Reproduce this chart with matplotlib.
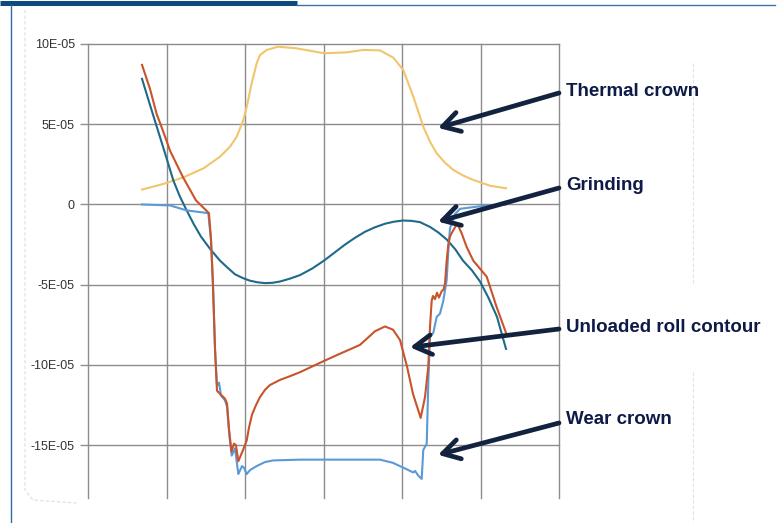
import matplotlib
matplotlib.use("Agg")
import matplotlib.pyplot as plt
from matplotlib.lines import Line2D

# ---------------- data (x in grid units, y in units of 1e-5) ----------------
thermal_x = [0.688, 0.960, 1.215, 1.475, 1.682, 1.809, 1.894, 1.979, 2.022, 2.085, 2.149,
             2.191, 2.276, 2.420, 2.658, 3.010, 3.296, 3.507, 3.720, 3.889, 4.016, 4.080,
             4.144, 4.208, 4.271, 4.357, 4.442, 4.548, 4.654, 4.781, 4.908, 5.121, 5.325]
thermal_y = [0.93, 1.28, 1.69, 2.26, 2.98, 3.60, 4.22, 5.26, 6.09, 7.55, 8.80,
             9.31, 9.63, 9.83, 9.73, 9.42, 9.48, 9.63, 9.60, 9.15, 8.38, 7.55,
             6.72, 5.78, 4.85, 3.91, 3.19, 2.60, 2.15, 1.80, 1.53, 1.17, 1.01]

grinding_x = [0.688, 0.790, 0.866, 0.930, 1.006, 1.087, 1.170, 1.257, 1.350, 1.439, 1.560,
              1.682, 1.780, 1.873, 1.970, 2.064, 2.160, 2.255, 2.350, 2.446, 2.573, 2.701,
              2.860, 3.006, 3.140, 3.274, 3.400, 3.529, 3.656, 3.783, 3.900, 4.013, 4.120,
              4.229, 4.357, 4.465, 4.573, 4.680, 4.777, 4.890, 4.994, 5.100, 5.210, 5.325]
grinding_y = [7.83, 6.2, 5.0, 4.0, 2.8, 1.5, 0.5, -0.37, -1.25, -2.0, -2.8,
              -3.5, -3.95, -4.35, -4.58, -4.75, -4.85, -4.9, -4.88, -4.8, -4.62, -4.4,
              -3.98, -3.5, -3.0, -2.5, -2.08, -1.7, -1.42, -1.2, -1.07, -1.0, -1.02,
              -1.1, -1.4, -1.75, -2.2, -2.8, -3.5, -4.1, -4.8, -5.8, -7.0, -9.0]

unloaded_x = [0.688, 0.790, 0.875, 0.924, 1.006, 1.045, 1.210, 1.376, 1.541, 1.567, 1.592,
              1.618, 1.643, 1.682, 1.745, 1.771, 1.796, 1.828, 1.860, 1.885, 1.915, 1.975,
              2.022, 2.051, 2.089, 2.140, 2.191, 2.255, 2.318, 2.446, 2.573, 2.701, 3.006,
              3.210, 3.465, 3.656, 3.783, 3.885, 3.975, 4.064, 4.140, 4.238, 4.293, 4.335,
              4.357, 4.378, 4.395, 4.420, 4.446, 4.471, 4.506, 4.529, 4.548, 4.569, 4.590,
              4.611, 4.653, 4.704, 4.760, 4.824, 4.908, 5.079, 5.206, 5.325]
unloaded_y = [8.7, 7.2, 5.63, 5.0, 3.9, 3.35, 1.7, 0.25, -0.54, -2.2, -5.0,
              -9.0, -11.6, -11.8, -12.1, -12.4, -14.0, -15.4, -14.9, -15.0, -16.0, -15.3,
              -14.7, -13.9, -13.1, -12.5, -12.0, -11.55, -11.25, -10.93, -10.7, -10.45, -9.75,
              -9.3, -8.75, -7.9, -7.6, -7.8, -8.45, -10.1, -11.8, -13.3, -12.0, -10.1,
              -7.6, -6.0, -5.7, -5.9, -5.5, -5.8, -5.4, -5.3, -4.9, -3.5, -2.5,
              -2.0, -1.6, -1.2, -1.8, -2.65, -3.5, -4.5, -6.4, -8.0]

wear_x = [0.688, 1.045, 1.257, 1.532, 1.567, 1.592, 1.618, 1.643, 1.669, 1.694, 1.745,
          1.771, 1.803, 1.831, 1.873, 1.915, 1.962, 1.987, 2.022, 2.064, 2.149, 2.255,
          2.357, 2.701, 3.210, 3.720, 3.885, 4.060, 4.144, 4.166, 4.208, 4.251, 4.271,
          4.315, 4.335, 4.357, 4.399, 4.442, 4.484, 4.526, 4.569, 4.590, 4.611, 4.675,
          4.739, 5.079, 5.325]
wear_y = [0.0, -0.06, -0.37, -0.54, -2.2, -5.0, -9.0, -11.3, -11.1, -11.9, -12.2,
          -12.6, -14.5, -15.65, -15.2, -16.8, -16.3, -16.4, -16.8, -16.55, -16.3, -16.05,
          -15.95, -15.9, -15.9, -15.9, -16.1, -16.5, -16.7, -16.6, -16.9, -17.1, -15.3,
          -14.9, -11.1, -8.2, -8.0, -7.0, -6.8, -6.0, -4.7, -2.9, -1.5, -0.6,
          -0.27, -0.06, 0.0]

ytick_vals = [10, 5, 0, -5, -10, -15]
ytick_labels = ["10E-05", "5E-05", "0", "-5E-05", "-10E-05", "-15E-05"]
xgrid_vals = [0, 1, 2, 3, 4, 5, 6]

labels = ["Thermal crown", "Grinding", "Unloaded roll contour", "Wear crown"]
# arrow heads (data) and text/arrow-tail positions (figure pixels from top)
arrow_heads = [(4.459, 4.77), (4.459, -1.07), (4.102, -8.90), (4.459, -15.6)]
label_rows_px = [91, 186, 327, 420]
tail_rows_px = [93, 188, 329, 423]

SCALE = 1e-5
W, H = 777, 523

# ---------------- figure ----------------
fig = plt.figure(figsize=(W / 100, H / 100), dpi=100)
fig.patch.set_facecolor("white")

ax = fig.add_axes([88 / W, 1 - 498 / H, (559 - 88) / W, (498 - 44) / H])
ax.set_xlim(0, 6)
ax.set_ylim(-18.29 * SCALE, 10 * SCALE)
for s in ax.spines.values():
    s.set_visible(False)

ax.set_xticks(xgrid_vals)
ax.set_xticklabels([])
ax.set_yticks([v * SCALE for v in ytick_vals])
ax.set_yticklabels(ytick_labels, fontfamily="Liberation Sans", fontsize=9, color="#333333")
ax.tick_params(axis="x", length=0)
ax.tick_params(axis="y", length=6, width=1.0, color="#909090", pad=3.5)
ax.grid(True, color="#8c8c8c", lw=1.0)
ax.set_axisbelow(True)
for gl in ax.get_xgridlines() + ax.get_ygridlines():
    gl.set_clip_on(False)

lw = 1.5
ax.plot(thermal_x, [v * SCALE for v in thermal_y], color="#F1C56C", lw=lw, zorder=3)
ax.plot(grinding_x, [v * SCALE for v in grinding_y], color="#1E6A8A", lw=lw, zorder=3)
ax.plot(wear_x, [v * SCALE for v in wear_y], color="#5A9AD6", lw=lw, zorder=3)
ax.plot(unloaded_x, [v * SCALE for v in unloaded_y], color="#C9532B", lw=lw, zorder=4)

for lab, (hx, hy), ry, ty in zip(labels, arrow_heads, label_rows_px, tail_rows_px):
    ax.annotate("", xy=(hx, hy * SCALE), xycoords="data",
                xytext=(559, H - ty), textcoords="figure pixels",
                arrowprops=dict(arrowstyle="->,head_length=0.55,head_width=0.32",
                                color="#13233F", lw=3.4, mutation_scale=22,
                                shrinkA=0, shrinkB=0),
                annotation_clip=False, zorder=6)
    fig.text(566 / W, 1 - ry / H, lab, fontfamily="Liberation Sans", fontweight="bold",
             fontsize=13.5, color="#0E1A48", va="center", ha="left")

# ---------------- page decorations ----------------
fig.add_artist(Line2D([0, 297 / W], [1 - 2.5 / H] * 2, color="#0C4A80", lw=3.6,
                      transform=fig.transFigure, solid_capstyle="butt"))
fig.add_artist(Line2D([297 / W, 775 / W], [1 - 4.5 / H] * 2, color="#3B74A8", lw=1.0,
                      transform=fig.transFigure))
fig.add_artist(Line2D([10.5 / W, 10.5 / W], [0, 1 - 5 / H], color="#2E6CA4", lw=1.0,
                      transform=fig.transFigure))
# faint cut-out outline
fig.add_artist(Line2D([25 / W, 25 / W, 33 / W, 77 / W], [1 - 10 / H, 1 - 490 / H, 1 - 500 / H, 1 - 503 / H],
                      color="#dddddd", lw=0.8, ls=(0, (3, 2)), transform=fig.transFigure))
fig.add_artist(Line2D([693 / W, 693 / W], [1 - 372 / H, 0], color="#e2e2e2", lw=0.8,
                      ls=(0, (3, 2)), transform=fig.transFigure))
fig.add_artist(Line2D([693 / W, 693 / W], [1 - 63 / H, 1 - 285 / H], color="#e2e2e2", lw=0.8,
                      ls=(0, (3, 2)), transform=fig.transFigure))

fig.savefig("out.png", dpi=100, facecolor="white")
